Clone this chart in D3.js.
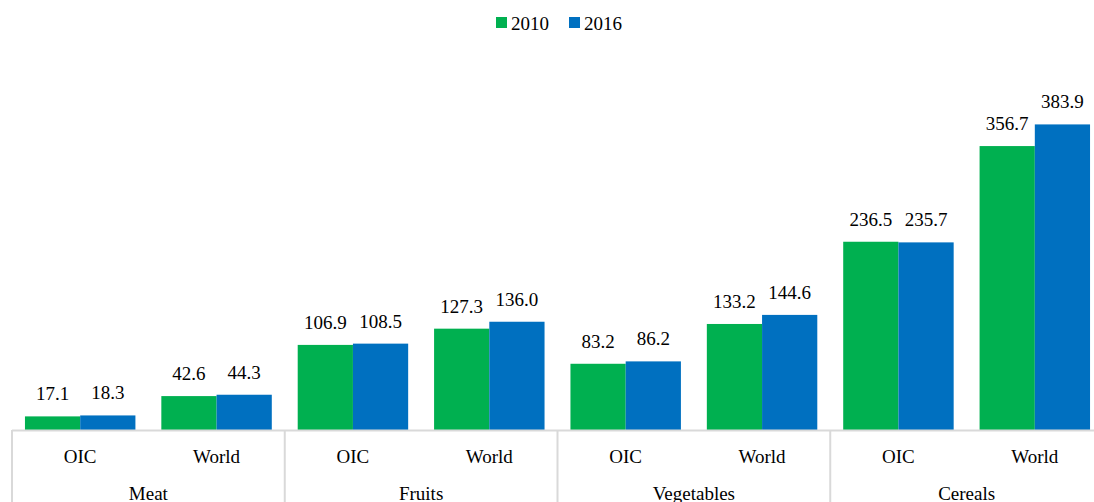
<!DOCTYPE html>
<html>
<head>
<meta charset="utf-8">
<script src="https://cdn.jsdelivr.net/npm/d3@7"></script>
<style>
  body { margin: 0; background: #fff; }
</style>
</head>
<body>
<svg id="chart" width="1094" height="502"></svg>
<script>
// data
const categories = ['Meat', 'Fruits', 'Vegetables', 'Cereals'];
const regions = ['OIC', 'World'];
const years = ['2010', '2016'];
const values2010 = [17.1, 42.6, 106.9, 127.3, 83.2, 133.2, 236.5, 356.7];
const values2016 = [18.3, 44.3, 108.5, 136.0, 86.2, 144.6, 235.7, 383.9];
const colors = ['#00B050', '#0070C0'];

const svg = d3.select('#chart');
const left = 12, right = 1103, baseY = 430;
const serif = "'Liberation Serif', 'Times New Roman', serif";
const fs = 19;

// one slot per category/region pair
let slots = [];
categories.forEach(c => regions.forEach(r => slots.push(c + '|' + r)));

let x0 = d3.scaleBand().domain(slots).range([left, right]).paddingInner(0.19).paddingOuter(0.095);
let x1 = d3.scaleBand().domain(years).range([0, x0.bandwidth()]);
let xCat = d3.scaleBand().domain(categories).range([left, right]);
let y = d3.scaleLinear().domain([0, 400]).range([baseY, baseY - 400 * 0.796]);

let series = [values2010, values2016];

// bars + value labels
series.forEach((vals, si) => {
    svg.append('g').selectAll('rect')
        .data(vals)
        .enter().append('rect')
        .attr('x', (d, i) => x0(slots[i]) + x1(years[si]))
        .attr('y', d => y(d))
        .attr('width', x1.bandwidth())
        .attr('height', d => y(0) - y(d))
        .attr('fill', colors[si]);

    svg.append('g').selectAll('text')
        .data(vals)
        .enter().append('text')
        .attr('x', (d, i) => x0(slots[i]) + x1(years[si]) + x1.bandwidth() / 2)
        .attr('y', d => y(d) - 16)
        .attr('text-anchor', 'middle')
        .style('font-family', serif)
        .style('font-size', fs + 'px')
        .attr('fill', '#000')
        .text(d => d.toFixed(1));
})

// axis line and category dividers
const axisColor = '#d9d9d9';
svg.append('line')
    .attr('x1', left).attr('x2', right)
    .attr('y1', baseY + 0.5).attr('y2', baseY + 0.5)
    .attr('stroke', axisColor).attr('stroke-width', 2);

svg.append('g').selectAll('line')
    .data(categories.concat(['end']))
    .enter().append('line')
    .attr('x1', (d, i) => left + i * xCat.step())
    .attr('x2', (d, i) => left + i * xCat.step())
    .attr('y1', baseY).attr('y2', 502)
    .attr('stroke', axisColor).attr('stroke-width', 2);

// region labels
svg.append('g').selectAll('text')
    .data(slots)
    .enter().append('text')
    .attr('x', d => x0(d) + x0.bandwidth() / 2)
    .attr('y', 463)
    .attr('text-anchor', 'middle')
    .style('font-family', serif)
    .style('font-size', fs + 'px')
    .text(d => d.split('|')[1]);

// category labels (cut by the bottom edge, as in the source)
svg.append('g').selectAll('text')
    .data(categories)
    .enter().append('text')
    .attr('x', d => xCat(d) + xCat.bandwidth() / 2)
    .attr('y', 500)
    .attr('text-anchor', 'middle')
    .style('font-family', serif)
    .style('font-size', fs + 'px')
    .text(d => d);

// legend
let legend = svg.append('g');
let legX = [496, 569];
years.forEach((yr, i) => {
    legend.append('rect')
        .attr('x', legX[i]).attr('y', 17)
        .attr('width', 11).attr('height', 11)
        .attr('fill', colors[i]);
    legend.append('text')
        .attr('x', legX[i] + 15).attr('y', 30)
        .style('font-family', serif)
        .style('font-size', fs + 'px')
        .text(yr);
})
</script>
</body>
</html>
